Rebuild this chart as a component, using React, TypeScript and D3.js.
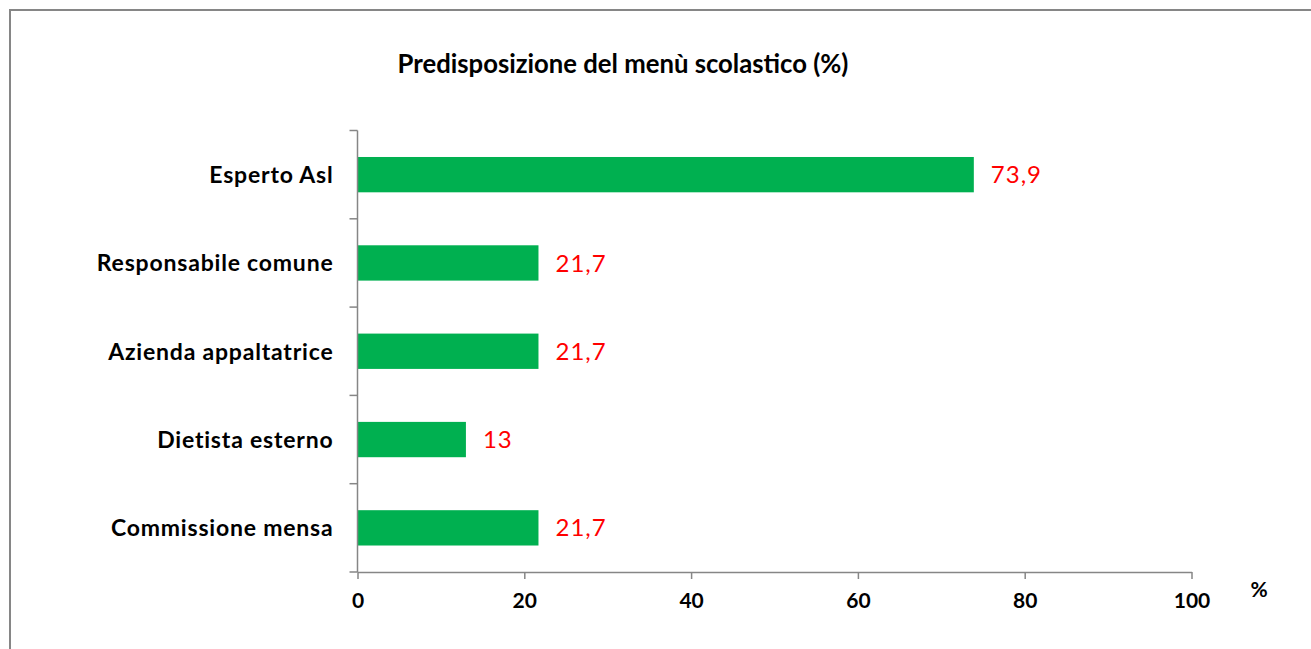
import * as d3 from 'd3';
import React, {useEffect, useRef} from 'react';

// data
const categories = ['Esperto Asl', 'Responsabile comune', 'Azienda appaltatrice', 'Dietista esterno', 'Commissione mensa'];
const values = [73.9, 21.7, 21.7, 13, 21.7];
const xTicks = [0, 20, 40, 60, 80, 100];
const title = 'Predisposizione del menù scolastico (%)';

const fmt = (v: number) => String(v).replace('.', ',');

export default function App() {
    const ref = useRef<SVGSVGElement>(null);

    useEffect(() => {
        const width = 1311, height = 649;
        const left = 357.5, right = 1191.5, top = 130.5, bottom = 572;
        const font = 'Lato, Calibri, sans-serif';
        const axisColor = '#868686';

        const svg = d3.select(ref.current);
        svg.selectAll('*').remove();

        svg.append('rect')
            .attr('width', width)
            .attr('height', height)
            .attr('fill', 'white');

        // outer frame (right / bottom edges are off the picture)
        svg.append('rect')
            .attr('x', 10)
            .attr('y', 10)
            .attr('width', width + 20)
            .attr('height', height + 20)
            .attr('fill', 'none')
            .attr('stroke', axisColor)
            .attr('stroke-width', 2);

        svg.append('text')
            .attr('x', 623)
            .attr('y', 73)
            .attr('text-anchor', 'middle')
            .style('font-family', font)
            .style('font-weight', 'bold')
            .style('font-size', '25.7px')
            .attr('fill', '#000')
            .text(title);

        const x = d3.scaleLinear().domain([0, 100]).range([left, right]);
        const y = d3.scaleBand()
            .domain(categories)
            .range([top, bottom])
            .paddingInner(0.6)
            .paddingOuter(0.3);

        // bars
        svg.append('g')
            .selectAll('rect')
            .data(categories)
            .enter()
            .append('rect')
            .attr('x', x(0))
            .attr('y', (d) => y(d)!)
            .attr('width', (d, i) => x(values[i]) - x(0))
            .attr('height', y.bandwidth())
            .attr('fill', '#00B050');

        // value labels
        svg.append('g')
            .selectAll('text')
            .data(categories)
            .enter()
            .append('text')
            .attr('x', (d, i) => x(values[i]) + 17)
            .attr('y', (d) => y(d)! + y.bandwidth() / 2)
            .attr('dy', '0.36em')
            .style('font-family', font)
            .style('font-size', '24px')
            .style('letter-spacing', '1px')
            .attr('fill', '#FF0000')
            .text((d, i) => fmt(values[i]));

        // category labels
        svg.append('g')
            .selectAll('text')
            .data(categories)
            .enter()
            .append('text')
            .attr('x', left - 24)
            .attr('y', (d) => y(d)! + y.bandwidth() / 2)
            .attr('dy', '0.36em')
            .attr('text-anchor', 'end')
            .style('font-family', font)
            .style('font-weight', 'bold')
            .style('font-size', '23px')
            .style('letter-spacing', '0.8px')
            .attr('fill', '#000')
            .text((d) => d);

        // y axis: line plus ticks between categories
        const bounds = categories.map((c) => y(c)! - y.step() * 0.3).concat([bottom]);
        const yAxis = svg.append('g');
        yAxis.append('line')
            .attr('x1', left).attr('x2', left)
            .attr('y1', top).attr('y2', bottom)
            .attr('stroke', axisColor)
            .attr('stroke-width', 1.5);
        yAxis.selectAll('.tick')
            .data(bounds)
            .enter()
            .append('line')
            .attr('x1', left - 8).attr('x2', left)
            .attr('y1', (d) => d).attr('y2', (d) => d)
            .attr('stroke', axisColor)
            .attr('stroke-width', 1.5);

        // x axis
        const xAxis = d3.axisBottom(x)
            .tickValues(xTicks)
            .tickSize(7)
            .tickSizeOuter(0)
            .tickPadding(14)
            .tickFormat((d) => String(d));

        const gx = svg.append('g')
            .attr('transform', `translate(0,${bottom})`)
            .call(xAxis);
        gx.select('.domain').attr('stroke', axisColor).attr('stroke-width', 1.5);
        gx.selectAll('.tick line').attr('stroke', axisColor).attr('stroke-width', 1.5);
        gx.selectAll('.tick text')
            .style('font-family', font)
            .style('font-weight', 'bold')
            .style('font-size', '21px')
            .attr('fill', '#000');

        svg.append('text')
            .attr('x', 1259)
            .attr('y', 597)
            .attr('text-anchor', 'middle')
            .style('font-family', font)
            .style('font-weight', 'bold')
            .style('font-size', '21px')
            .attr('fill', '#000')
            .text('%');
    }, []);

    return (
        <svg ref={ref} width={1311} height={649}
            style={{position: 'absolute', left: 0, top: 0, display: 'block'}} />
    );
}
